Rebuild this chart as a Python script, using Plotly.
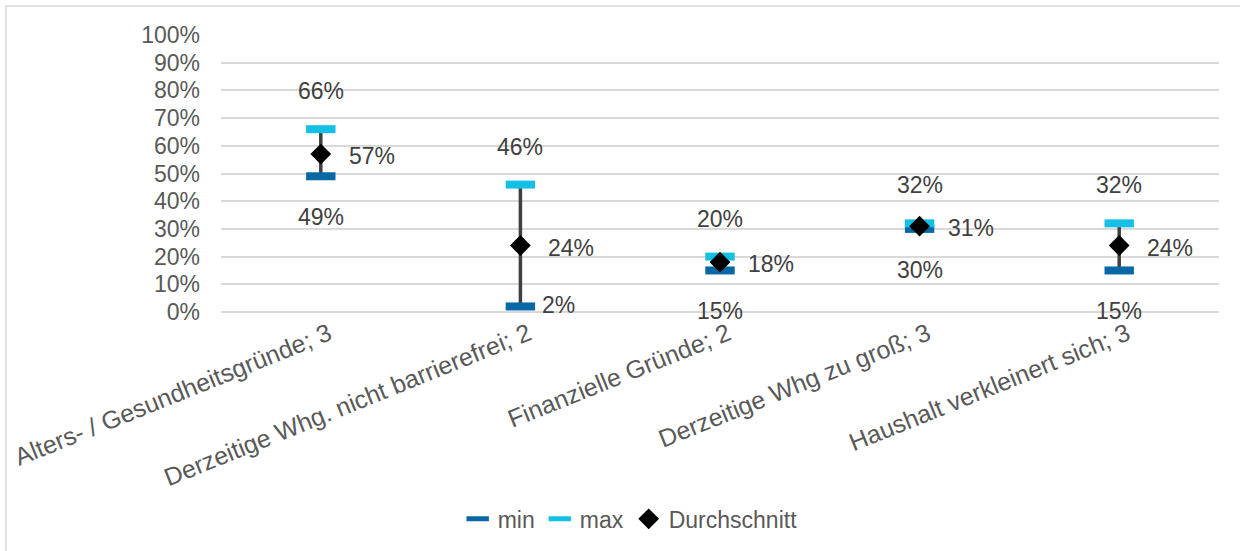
import plotly.graph_objects as go

categories = [
    "Alters- / Gesundheitsgründe; 3",
    "Derzeitige Whg. nicht barrierefrei; 2",
    "Finanzielle Gründe; 2",
    "Derzeitige Whg zu groß; 3",
    "Haushalt verkleinert sich; 3",
]
min_vals = [0.49, 0.02, 0.15, 0.30, 0.15]
max_vals = [0.66, 0.46, 0.20, 0.32, 0.32]
avg_vals = [0.57, 0.24, 0.18, 0.31, 0.24]

FONT = "Arial, 'Liberation Sans', sans-serif"
FS = 23
TICK_COLOR = "#595959"
LABEL_COLOR = "#404040"
MIN_COLOR = "#0868A6"
MAX_COLOR = "#14C0E6"

fig = go.Figure()

# connecting range line (min -> max)
fig.add_trace(go.Scatter(
    x=categories, y=min_vals, mode="markers",
    marker=dict(size=1, opacity=0),
    error_y=dict(type="data", symmetric=False,
                 array=[mx - mn for mx, mn in zip(max_vals, min_vals)],
                 arrayminus=[0] * len(min_vals),
                 color="#404040", thickness=3.5, width=0),
    showlegend=False, hoverinfo="skip",
))

fig.add_trace(go.Scatter(
    x=categories, y=min_vals, mode="markers", name="min",
    marker=dict(symbol="line-ew", size=21, line=dict(width=8, color=MIN_COLOR), color=MIN_COLOR),
))
fig.add_trace(go.Scatter(
    x=categories, y=max_vals, mode="markers", name="max",
    marker=dict(symbol="line-ew", size=21, line=dict(width=8, color=MAX_COLOR), color=MAX_COLOR),
))
fig.add_trace(go.Scatter(
    x=categories, y=avg_vals, mode="markers", name="Durchschnitt",
    marker=dict(symbol="diamond", size=16, color="black"),
))

annotations = []
for c, mn, mx, av in zip(categories, min_vals, max_vals, avg_vals):
    annotations.append(dict(x=c, y=mx, text=f"{round(mx*100)}%", showarrow=False,
                            yshift=38, xanchor="center", yanchor="middle"))
    if mn < 0.1:
        annotations.append(dict(x=c, y=mn, text=f"{round(mn*100)}%", showarrow=False,
                                xshift=20, yshift=1, xanchor="left", yanchor="middle"))
    else:
        annotations.append(dict(x=c, y=mn, text=f"{round(mn*100)}%", showarrow=False,
                                yshift=-41, xanchor="center", yanchor="middle"))
    annotations.append(dict(x=c, y=av, text=f"{round(av*100)}%", showarrow=False,
                            xshift=26, yshift=-2, xanchor="left", yanchor="middle"))
for a in annotations:
    a["font"] = dict(family=FONT, size=FS, color=LABEL_COLOR)

fig.update_layout(
    width=1240, height=551,
    margin=dict(l=221, r=21, t=35, b=239, autoexpand=False),
    paper_bgcolor="white", plot_bgcolor="white",
    font=dict(family=FONT, size=FS, color=TICK_COLOR),
    annotations=annotations,
    showlegend=True,
    legend=dict(orientation="h", x=0.41, xanchor="center", y=-0.747, yanchor="middle",
                font=dict(family=FONT, size=FS, color=TICK_COLOR),
                itemwidth=30, tracegroupgap=0, bgcolor="rgba(0,0,0,0)"),
    shapes=[dict(type="rect", xref="paper", yref="paper",
                 x0=-215 / 998, x1=1.2, y0=-1.2, y1=1 + 29 / 277,
                 line=dict(color="#D9D9D9", width=1.5), fillcolor="rgba(0,0,0,0)",
                 layer="below")],
)
fig.update_xaxes(type="category", range=[-0.5, 4.5], tickangle=-22, automargin=False,
                 showgrid=False, showline=False, ticks="",
                 ticklabelshift=8, ticklabelstandoff=2,
                 tickfont=dict(family=FONT, size=25, color=TICK_COLOR))
fig.update_yaxes(range=[0, 1], dtick=0.1, tickformat=".0%", automargin=False,
                 showgrid=True, gridcolor="#D9D9D9", gridwidth=1.5,
                 zeroline=True, zerolinecolor="#D9D9D9", zerolinewidth=1.5,
                 showline=False, ticks="", ticklen=0, ticklabelstandoff=20,
                 tickfont=dict(family=FONT, size=FS, color=TICK_COLOR))

fig.write_html(
    "out.html",
    config={"displayModeBar": False},
    post_script="document.body.style.margin='0';document.body.style.overflow='hidden';",
)
